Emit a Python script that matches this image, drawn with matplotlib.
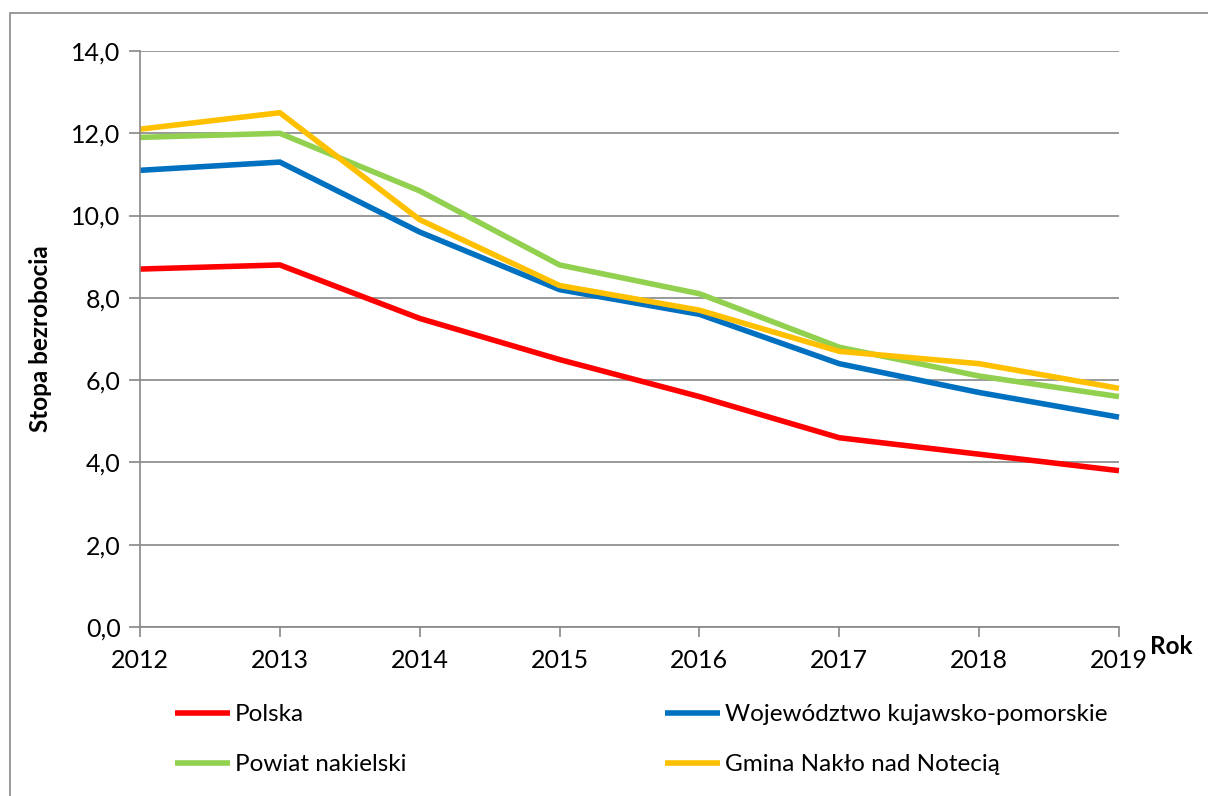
import matplotlib
matplotlib.use("Agg")
import matplotlib.pyplot as plt
from matplotlib.patches import Rectangle
from matplotlib.ticker import FuncFormatter

years = [2012, 2013, 2014, 2015, 2016, 2017, 2018, 2019]
polska = [8.7, 8.8, 7.5, 6.5, 5.6, 4.6, 4.2, 3.8]
wojewodztwo = [11.1, 11.3, 9.6, 8.2, 7.6, 6.4, 5.7, 5.1]
powiat = [11.9, 12.0, 10.6, 8.8, 8.1, 6.8, 6.1, 5.6]
gmina = [12.1, 12.5, 9.9, 8.3, 7.7, 6.7, 6.4, 5.8]

series = [
    ("Polska", polska, "#FF0000"),
    ("Województwo kujawsko-pomorskie", wojewodztwo, "#0070C0"),
    ("Powiat nakielski", powiat, "#92D050"),
    ("Gmina Nakło nad Notecią", gmina, "#FFC000"),
]

plt.rcParams['font.family'] = ['Lato', 'DejaVu Sans']

W, H = 1208, 796
fig = plt.figure(figsize=(W / 100, H / 100), dpi=100)
fig.patches.append(Rectangle((10 / W, -0.1), 1.2, 1 - 13 / H + 0.1, transform=fig.transFigure,
                             fill=False, edgecolor="#888888", linewidth=1.2))

ax = fig.add_axes([140 / W, 1 - 627 / H, (1119 - 140) / W, (627 - 51) / H])
handles = []
for name, vals, col in series:
    h, = ax.plot(years, vals, color=col, linewidth=4.0, label=name, solid_capstyle='butt',
                 solid_joinstyle='miter', clip_on=False)
    handles.append(h)

ax.set_xlim(2012, 2019)
ax.set_ylim(0, 14)
ax.set_yticks(range(0, 15, 2))
ax.set_xticks(years)
ax.yaxis.set_major_formatter(FuncFormatter(lambda v, p: f"{v:.1f}".replace(".", ",")))
ax.grid(axis='y', color="#888888", linewidth=1.2)
ax.set_axisbelow(True)
for s in ['top', 'right']:
    ax.spines[s].set_visible(False)
for s in ['left', 'bottom']:
    ax.spines[s].set_color("#888888")
    ax.spines[s].set_linewidth(1.2)
ax.tick_params(axis='y', length=8, color="#888888", width=1.2, labelsize=18, pad=6)
ax.tick_params(axis='x', length=7, color="#888888", width=1.2, labelsize=18, pad=9)

ax.set_ylabel("Stopa bezrobocia", fontsize=17.5, fontweight='bold', labelpad=14)
fig.text(1150 / W, 1 - 647 / H, "Rok", fontsize=17.5, fontweight='bold', va='center', ha='left')

common = dict(loc='upper left', frameon=False, fontsize=17.5, handlelength=2.25,
              handletextpad=0.2, labelspacing=1.2, borderpad=0, borderaxespad=0)
fig.legend(handles=[handles[0], handles[2]], labels=[series[0][0], series[2][0]],
           bbox_to_anchor=(175 / W, 1 - 704 / H), **common)
fig.legend(handles=[handles[1], handles[3]], labels=[series[1][0], series[3][0]],
           bbox_to_anchor=(665 / W, 1 - 704 / H), **common)

fig.savefig("out.png", dpi=100)
